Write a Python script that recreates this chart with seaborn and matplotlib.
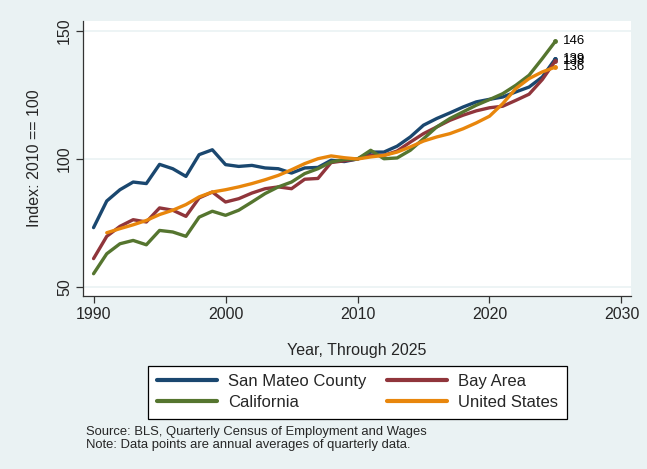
import numpy as np
import pandas as pd
import matplotlib
matplotlib.use("Agg")
import matplotlib.pyplot as plt
import seaborn as sns

years = list(range(1990, 2026))
san_mateo = [73.2, 83.6, 88.0, 91.0, 90.4, 97.9, 96.2, 93.2, 101.7, 103.6,
             97.8, 97.1, 97.5, 96.5, 96.2, 94.5, 96.5, 96.7, 99.5, 99.0,
             100.0, 102.7, 102.7, 105.0, 108.6, 113.2, 115.8, 118.0, 120.3, 122.3,
             123.3, 124.2, 126.2, 128.1, 132.0, 139.2]
bay_area = [61.1, 69.8, 73.7, 76.3, 75.4, 80.9, 80.0, 77.6, 84.8, 87.1,
            83.2, 84.5, 86.7, 88.4, 89.1, 88.4, 92.1, 92.4, 98.6, 99.3,
            100.0, 101.4, 101.4, 103.1, 106.6, 109.9, 112.5, 115.1, 117.1, 118.8,
            120.0, 120.6, 122.9, 125.3, 131.0, 138.4]
california = [55.2, 63.0, 66.9, 68.2, 66.5, 72.1, 71.5, 69.8, 77.3, 79.6,
              78.0, 80.0, 83.2, 86.5, 89.1, 91.0, 94.3, 96.2, 98.8, 99.8,
              100.0, 103.4, 100.1, 100.4, 103.4, 107.9, 112.5, 115.8, 118.4, 121.0,
              123.2, 125.5, 128.8, 132.7, 139.2, 146.0]
united_states = [np.nan, 71.2, 72.8, 74.3, 76.0, 78.3, 80.0, 82.2, 85.2, 87.1,
                 88.0, 89.1, 90.4, 91.9, 93.6, 95.8, 98.2, 100.1, 101.2, 100.5,
                 100.0, 100.8, 101.4, 102.7, 104.7, 107.0, 108.6, 109.9, 111.8, 114.1,
                 116.7, 121.6, 127.5, 131.4, 134.0, 135.9]
end_labels = {"San Mateo County": "139", "Bay Area": "138",
              "California": "146", "United States": "136"}

series_names = ["San Mateo County", "Bay Area", "California", "United States"]
colors = ["#1A476F", "#90353B", "#55752F", "#E8860C"]
df = pd.DataFrame({"Year": years, "San Mateo County": san_mateo, "Bay Area": bay_area,
                   "California": california, "United States": united_states})
long = df.melt(id_vars="Year", var_name="Series", value_name="Index").dropna()

sns.set_style("white")
plt.rcParams["font.family"] = ["Liberation Sans", "DejaVu Sans"]
bg = "#EAF2F3"

fig = plt.figure(figsize=(6.47, 4.69), dpi=100, facecolor=bg)
ax = fig.add_axes([83/647, 1-296/469, (630.7-83)/647, (296-20.7)/469])
ax.set_facecolor("white")

sns.lineplot(data=long, x="Year", y="Index", hue="Series", hue_order=series_names,
             palette=colors, linewidth=2.4, ax=ax, legend=True)

for name, c in zip(series_names, colors):
    sub = long[long["Series"] == name]
    last = sub.iloc[-1]
    ax.plot(last["Year"], last["Index"], "o", color=c, markersize=2.5)
    ax.text(last["Year"] + 0.55, last["Index"], end_labels[name], fontsize=9.5,
            va="center", ha="left", color="black")

ax.set_xlim(1989.2, 2030.7)
ax.set_ylim(46.5, 154.0)
ax.set_xticks([1990, 2000, 2010, 2020, 2030])
ax.set_yticks([50, 100, 150])
ax.grid(axis="y", color="#EAF2F3", linewidth=1.2)
ax.grid(axis="x", visible=False)
for s in ["top", "right"]:
    ax.spines[s].set_visible(False)
for s in ["left", "bottom"]:
    ax.spines[s].set_color("#333333")
    ax.spines[s].set_linewidth(0.9)
ax.tick_params(axis="both", direction="out", length=5, width=0.9, color="#333333",
               labelsize=11.5, pad=3, left=True, bottom=True)
plt.setp(ax.get_yticklabels(), rotation=90, va="center")
ax.set_xlabel("Year, Through 2025", fontsize=11.5, labelpad=15)
ax.set_ylabel("Index: 2010 == 100", fontsize=11.5, labelpad=11)

handles, labels = ax.get_legend_handles_labels()
hmap = dict(zip(labels, handles))
order = ["San Mateo County", "California", "Bay Area", "United States"]
ax.get_legend().remove()
leg = fig.legend([hmap[o] for o in order], order, ncol=2, loc="center",
                 bbox_to_anchor=(357.5/647, 1-392/469), fontsize=12,
                 frameon=True, fancybox=False, edgecolor="black", framealpha=1,
                 handlelength=3.6, handletextpad=0.7, columnspacing=1.2,
                 labelspacing=0.38, borderpad=0.5)
leg.get_frame().set_linewidth(0.9)
for l in leg.get_lines():
    l.set_linewidth(3)

fig.text(86/647, 1-432/469, "Source: BLS, Quarterly Census of Employment and Wages",
         fontsize=9.4, va="center", ha="left")
fig.text(86/647, 1-445/469, "Note: Data points are annual averages of quarterly data.",
         fontsize=9.4, va="center", ha="left")

fig.savefig("out.png", dpi=100, facecolor=bg)
